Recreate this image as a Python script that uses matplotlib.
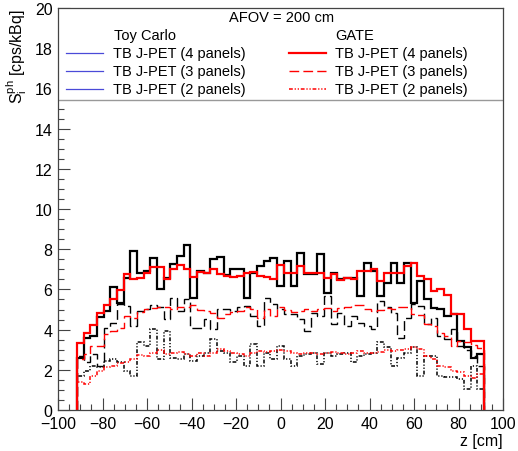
import numpy as np
import matplotlib
matplotlib.use('Agg')
import matplotlib.pyplot as plt
from matplotlib.patches import Rectangle
from matplotlib.ticker import MultipleLocator

plt.rcParams['font.family'] = ['Liberation Sans', 'DejaVu Sans']
plt.rcParams['mathtext.fontset'] = 'custom'
plt.rcParams['mathtext.rm'] = 'Liberation Sans'
plt.rcParams['mathtext.it'] = 'Liberation Sans:italic'

# 61 bins of 3 cm, z from -91.5 to 91.5
edges = np.linspace(-91.5, 91.5, 62)

# GATE simulation
gate_4 = [3.32, 3.85, 4.25, 4.81, 5.21, 5.51, 5.97, 6.75, 6.53, 6.58,
          6.83, 7.11, 7.11, 6.53, 7.00, 7.23, 7.03, 6.64, 6.86, 6.83,
          7.00, 6.75, 6.67, 6.64, 6.67, 6.83, 6.86, 6.67, 6.64, 6.50,
          7.20, 6.83, 6.80, 7.16, 6.83, 6.80, 6.80, 6.58, 6.75, 6.45,
          6.58, 6.50, 6.92, 6.92, 7.03, 6.42, 6.80, 6.80, 6.83, 7.16,
          7.29, 6.67, 6.50, 5.92, 6.00, 5.70, 4.79, 4.76, 4.02, 3.44, 3.41]
gate_3 = [2.53, 2.78, 3.16, 3.16, 3.77, 3.94, 4.10, 4.68, 4.60, 4.88,
          5.01, 5.05, 5.10, 5.14, 5.01, 5.14, 5.10, 5.21, 4.98, 4.93,
          4.85, 4.60, 4.76, 4.88, 4.93, 5.10, 5.01, 4.60, 5.01, 4.68,
          5.10, 4.98, 4.88, 4.93, 5.01, 4.93, 5.01, 5.05, 4.93, 5.05,
          5.14, 5.21, 5.21, 5.01, 4.93, 4.98, 5.05, 5.01, 5.14, 5.14,
          4.76, 4.72, 4.27, 4.19, 3.85, 3.69, 3.20, 3.44, 3.36, 3.22, 3.10]
gate_2 = [1.37, 1.29, 1.70, 1.96, 2.12, 2.20, 2.33, 2.40, 2.53, 2.73,
          2.70, 2.86, 2.99, 2.78, 2.86, 2.90, 2.78, 2.70, 2.86, 2.70,
          2.86, 3.02, 2.94, 2.86, 2.78, 2.70, 2.86, 2.94, 2.90, 2.94,
          2.99, 2.94, 2.86, 2.78, 2.82, 2.86, 2.78, 2.86, 2.90, 2.82,
          2.78, 2.86, 2.94, 2.86, 2.82, 2.90, 2.99, 2.94, 2.99, 3.02,
          3.11, 3.02, 2.70, 2.53, 2.20, 2.12, 1.96, 1.87, 1.70, 1.60, 1.80]

# Toy Carlo simulation
toy_4 = [2.61, 3.56, 3.69, 4.65, 4.93, 6.12, 5.34, 6.58, 7.91, 6.83,
         6.92, 7.58, 6.04, 6.58, 7.25, 7.66, 8.19, 5.59, 6.92, 6.83,
         7.53, 7.63, 6.70, 7.03, 7.00, 5.59, 6.83, 7.16, 7.41, 7.58,
         6.17, 7.41, 6.17, 7.83, 6.75, 6.75, 7.74, 5.84, 6.83, 6.50,
         6.58, 6.58, 5.67, 7.33, 6.92, 5.67, 6.34, 7.33, 6.34, 7.29,
         5.34, 6.42, 5.50, 5.09, 5.01, 4.68, 4.76, 3.44, 3.11, 2.61, 2.78]
toy_3 = [2.70, 2.37, 2.78, 2.20, 4.10, 4.35, 5.26, 5.18, 4.19, 4.93,
         5.01, 5.21, 5.10, 4.52, 5.59, 4.93, 5.51, 4.10, 4.10, 4.52,
         4.02, 5.01, 5.01, 4.93, 5.10, 5.18, 4.68, 4.19, 5.59, 5.26,
         5.01, 4.76, 4.76, 4.52, 3.94, 4.85, 4.68, 5.67, 4.27, 4.85,
         4.19, 4.68, 4.35, 4.19, 4.02, 5.43, 5.10, 4.85, 3.60, 4.60,
         5.26, 5.18, 4.27, 4.60, 3.69, 3.52, 4.02, 3.20, 3.00, 2.70, 2.20]
toy_2 = [1.70, 1.96, 2.20, 2.12, 2.45, 2.53, 2.37, 1.96, 1.70, 3.36,
         3.20, 4.02, 2.53, 3.94, 2.61, 2.53, 2.78, 2.45, 2.70, 2.86,
         3.52, 2.94, 2.86, 2.37, 2.70, 2.20, 3.27, 2.20, 2.86, 2.53,
         3.20, 2.53, 2.20, 2.70, 2.78, 2.86, 2.28, 2.86, 2.70, 2.78,
         2.86, 2.37, 2.70, 2.78, 2.86, 3.36, 3.11, 2.20, 2.61, 2.86,
         3.11, 1.70, 2.70, 2.70, 1.70, 1.62, 1.62, 1.54, 1.05, 2.20, 1.05]

DASH = (0, (7, 3))
DASHDOT = (0, (2.5, 1.2, 0.8, 1.2, 0.8, 1.2))

fig = plt.figure(figsize=(5.18, 4.52), dpi=100)
ax = fig.add_axes([58 / 518, 41 / 452, 445 / 518, 402 / 452])

ax.stairs(toy_4, edges, baseline=0, color='black', lw=1.6)
ax.stairs(toy_3, edges, baseline=0, color='black', lw=1.0, linestyle=DASH)
ax.stairs(toy_2, edges, baseline=0, color='black', lw=1.1, linestyle=DASHDOT)
ax.stairs(gate_4, edges, baseline=0, color='red', lw=1.6)
ax.stairs(gate_3, edges, baseline=0, color='red', lw=1.0, linestyle=DASH)
ax.stairs(gate_2, edges, baseline=0, color='red', lw=1.1, linestyle=DASHDOT)

ax.set_xlim(-100, 100)
ax.set_ylim(0, 20)
ax.xaxis.set_major_locator(MultipleLocator(20))
ax.xaxis.set_minor_locator(MultipleLocator(5))
ax.yaxis.set_major_locator(MultipleLocator(2))
ax.yaxis.set_minor_locator(MultipleLocator(0.5))
ax.tick_params(which='both', direction='in', top=False, right=False,
               labelsize=11.5, width=0.8, color='#444444')
ax.tick_params(which='major', length=8.5, pad=4)
ax.tick_params(which='minor', length=4.3)
for s in ax.spines.values():
    s.set_zorder(6)
    s.set_linewidth(0.9)
    s.set_color('#444444')

ax.set_xlabel('z [cm]', fontsize=11.5, loc='right', labelpad=2)
ax.set_ylabel(r'$\mathrm{S_{i}^{ph}}$ [cps/kBq]', fontsize=11.5, loc='top', labelpad=4)

# legend box across the top of the frame
ybot = 15.43
ax.add_patch(Rectangle((-100, ybot), 200, 20 - ybot, facecolor='white',
                       edgecolor='none', zorder=4))
ax.plot([-100, 100], [ybot, ybot], color='#999999', lw=1.0, zorder=5)

fs = 10.5
ax.text(0.5, 19.55, 'AFOV = 200 cm', ha='center', va='center', fontsize=fs, zorder=5)
ax.text(-75.0, 18.66, 'Toy Carlo', ha='left', va='center', fontsize=fs, zorder=5)
ax.text(24.5, 18.66, 'GATE', ha='left', va='center', fontsize=fs, zorder=5)

rows = [17.77, 16.85, 15.95]
panels = ['TB J-PET (4 panels)', 'TB J-PET (3 panels)', 'TB J-PET (2 panels)']
gate_styles = [('-', 1.6), (DASH, 1.0), (DASHDOT, 1.1)]
for yy, lab, (ls, lw) in zip(rows, panels, gate_styles):
    ax.plot([-96.4, -79.8], [yy, yy], color='#4a4ad8', lw=0.9, zorder=5)
    ax.text(-75.3, yy, lab, ha='left', va='center', fontsize=fs, zorder=5)
    ax.plot([3.8, 20.4], [yy, yy], color='red', lw=lw, linestyle=ls, zorder=5)
    ax.text(24.5, yy, lab, ha='left', va='center', fontsize=fs, zorder=5)

fig.savefig('out.png', dpi=100)
